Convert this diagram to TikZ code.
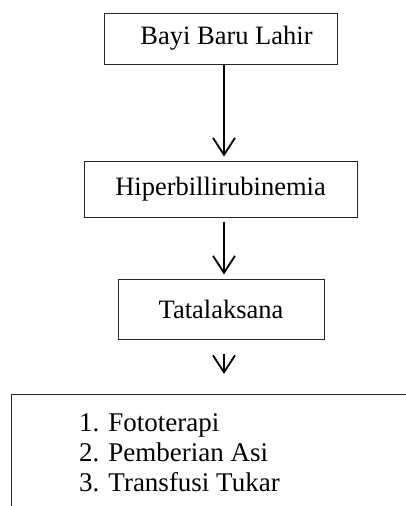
\documentclass[tikz,border=0pt]{standalone}
\usepackage{fontspec}
\setmainfont{Liberation Serif}
\usetikzlibrary{arrows.meta}
\begin{document}
\begin{tikzpicture}[x=1pt,y=-1pt,
  box/.style={draw=black!85, line width=1pt, inner sep=0pt, anchor=center,
    font=\fontsize{26.5}{30}\selectfont},
  txt/.style={inner sep=0pt, anchor=base west, font=\fontsize{27}{30}\selectfont},
  arr/.style={line width=1.8pt, -{Straight Barb[length=17pt, width=22pt, line width=1.8pt]}}]
\useasboundingbox (0,0) rectangle (406,506);
\node[box, minimum width=233pt, minimum height=51pt] (b1) at (220.5,38.5) {\hspace*{12pt}Bayi Baru Lahir};
\node[box, minimum width=273pt, minimum height=56pt] (b2) at (220.5,189) {Hiperbillirubinemia};
\node[box, minimum width=206pt, minimum height=60pt] (b3) at (221,309) {Tatalaksana};
\node[inner sep=0pt, anchor=north west, minimum width=395pt, minimum height=112pt] (b4) at (11,394) {};
\draw[black!85, line width=1pt] (b4.north east) -- (b4.north west) -- (b4.south west);
\node[txt] (l1) at (79,431) {1. Fototerapi};
\node[txt] (l2) at (79,461) {2. Pemberian Asi};
\node[txt] (l3) at (79,491) {3. Transfusi Tukar};
\coordinate (a3) at ([xshift=3pt]b3.south);
\draw[arr, shorten >=4pt] ([xshift=3.5pt]b1.south) -- ([xshift=3.5pt]b2.north);
\draw[arr, shorten <=4pt, shorten >=4pt] ([xshift=3.5pt]b2.south) -- ([xshift=3pt]b3.north);
\draw[arr, shorten <=14pt, shorten >=20pt] (a3) -- (b4.north -| a3);
\end{tikzpicture}
\end{document}
